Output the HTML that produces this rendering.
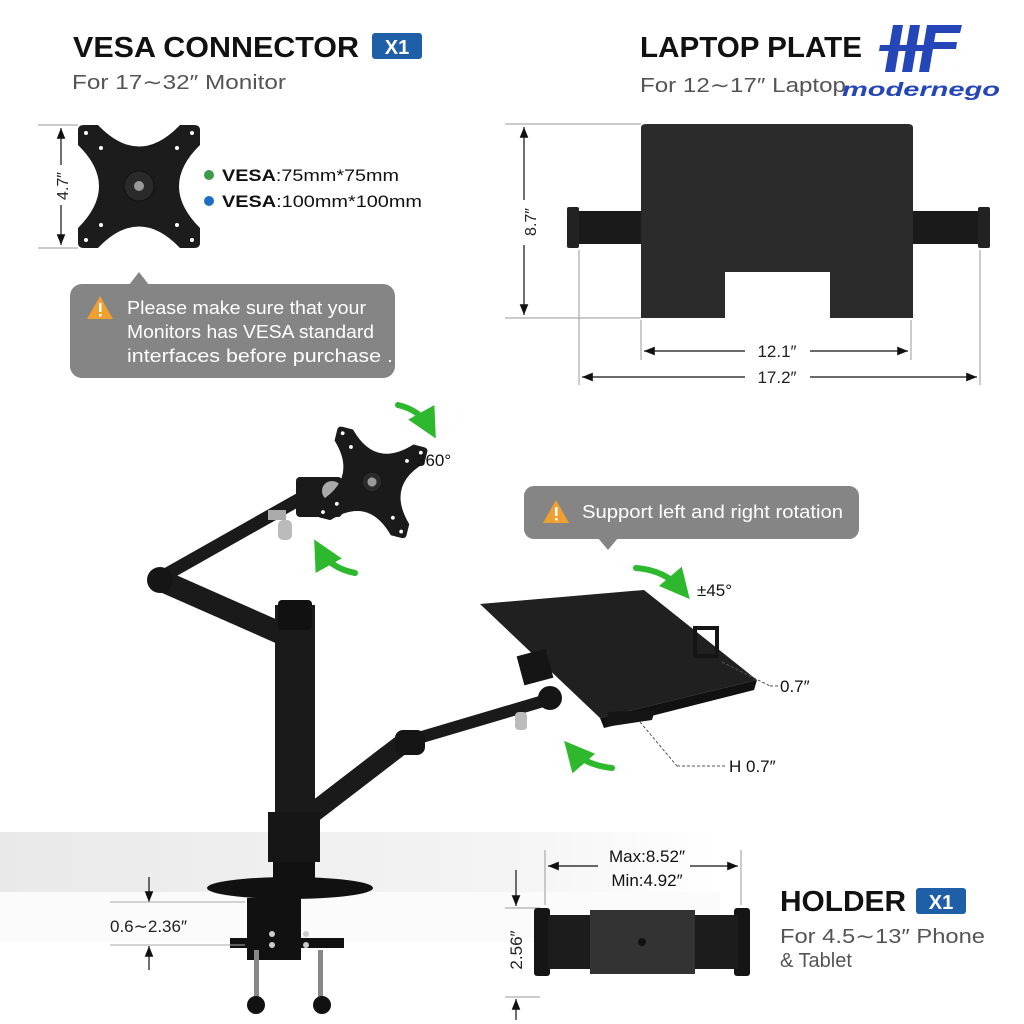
<!DOCTYPE html>
<html><head><meta charset="utf-8"><style>
html,body{margin:0;padding:0;background:#fff;}
svg{display:block;font-family:"Liberation Sans",sans-serif;}
</style></head><body>
<svg width="1024" height="1024" viewBox="0 0 1024 1024" xmlns="http://www.w3.org/2000/svg">
<defs>
<linearGradient id="desk" x1="0" y1="0" x2="1" y2="0">
<stop offset="0" stop-color="#e9e9e9"/><stop offset="0.7" stop-color="#f4f4f4"/><stop offset="1" stop-color="#fff"/>
</linearGradient>
<marker id="ah" viewBox="0 0 10 10" refX="10" refY="5" markerWidth="9" markerHeight="9" orient="auto-start-reverse"><path d="M0,1 L10,5 L0,9 z" fill="#111"/></marker>
<marker id="ga" viewBox="0 0 10 10" refX="6" refY="5" markerWidth="5" markerHeight="5" orient="auto"><path d="M0,0 L10,5 L0,10 z" fill="#2db82d"/></marker>
<path id="vesa" d="M78,130 Q78,125 84,125 L98,125 Q139,168 180,125 L194,125 Q200,125 200,130 L200,145 Q158,186 200,228 L200,243 Q200,248 194,248 L180,248 Q139,205 98,248 L84,248 Q78,248 78,243 L78,228 Q120,186 78,145 z"/>
</defs>
<rect width="1024" height="1024" fill="#fff"/>
<rect x="0" y="832" width="720" height="60" fill="url(#desk)"/>
<rect x="0" y="892" width="720" height="50" fill="#fbfbfb"/>

<text x="73" y="57" font-size="29" font-weight="bold" fill="#111" textLength="286" lengthAdjust="spacingAndGlyphs">VESA CONNECTOR</text>
<rect x="372" y="33" width="50" height="26" rx="3" fill="#1f5fa8"/>
<text x="397" y="54" font-size="20" font-weight="bold" fill="#fff" text-anchor="middle">X1</text>
<text x="72" y="89" font-size="20" fill="#555" textLength="214" lengthAdjust="spacingAndGlyphs">For 17∼32″ Monitor</text>

<text x="640" y="57" font-size="29" font-weight="bold" fill="#111" textLength="222" lengthAdjust="spacingAndGlyphs">LAPTOP PLATE</text>
<text x="640" y="92" font-size="20" fill="#555" textLength="206" lengthAdjust="spacingAndGlyphs">For 12∼17″ Laptop</text>
<g fill="#2446b8">
<path d="M893,25 L903,25 L895,72 L885,72 z"/><path d="M910,25 L920,25 L912,72 L902,72 z"/><path d="M927,25 L937,25 L929,72 L919,72 z"/>
<path d="M935,25 L962,25 L960,33 L934,33 z"/><path d="M932,42 L957,42 L956,49 L931,49 z"/><path d="M880,45 L930,45 L929,51 L879,51 z"/>
</g>
<text x="842" y="96" font-size="19" font-weight="bold" font-style="italic" fill="#2446b8" textLength="158" lengthAdjust="spacingAndGlyphs">modernego</text>

<line x1="38" y1="125" x2="78" y2="125" stroke="#999" stroke-width="1"/>
<line x1="38" y1="248" x2="78" y2="248" stroke="#999" stroke-width="1"/>
<line x1="61" y1="128" x2="61" y2="165" stroke="#111" stroke-width="1.2" marker-start="url(#ah)"/>
<line x1="61" y1="205" x2="61" y2="245" stroke="#111" stroke-width="1.2" marker-end="url(#ah)"/>
<text x="68" y="186" font-size="16" fill="#222" text-anchor="middle" transform="rotate(-90 68 186)">4.7″</text>
<use href="#vesa" fill="#1c1c1c"/>
<circle cx="139" cy="186" r="15" fill="#2a2a2a" stroke="#111"/><circle cx="139" cy="186" r="5" fill="#999"/>
<g fill="#fff"><circle cx="86" cy="133" r="2"/><circle cx="192" cy="133" r="2"/><circle cx="86" cy="240" r="2"/><circle cx="192" cy="240" r="2"/><circle cx="101" cy="148" r="2"/><circle cx="177" cy="148" r="2"/><circle cx="101" cy="225" r="2"/><circle cx="177" cy="225" r="2"/></g>
<circle cx="209" cy="175" r="5" fill="#3c9a4a"/><circle cx="209" cy="201" r="5" fill="#1f6fc0"/>
<text x="222" y="181" font-size="17" fill="#111" textLength="177" lengthAdjust="spacingAndGlyphs"><tspan font-weight="bold">VESA</tspan>:75mm*75mm</text>
<text x="222" y="207" font-size="17" fill="#111" textLength="200" lengthAdjust="spacingAndGlyphs"><tspan font-weight="bold">VESA</tspan>:100mm*100mm</text>

<path d="M129,285 L139,272 L149,285 z" fill="#858585"/>
<rect x="70" y="284" width="325" height="94" rx="12" fill="#858585"/>
<path d="M100,296 L113,319 L87,319 z" fill="#f0a030"/><rect x="99" y="303" width="2.5" height="9" fill="#fff"/><rect x="99" y="314" width="2.5" height="2.5" fill="#fff"/>
<text x="127" y="314" font-size="18" fill="#fff" textLength="239" lengthAdjust="spacingAndGlyphs">Please make sure that your</text>
<text x="127" y="338" font-size="18" fill="#fff" textLength="247" lengthAdjust="spacingAndGlyphs">Monitors has VESA standard</text>
<text x="127" y="362" font-size="18" fill="#fff" textLength="266" lengthAdjust="spacingAndGlyphs">interfaces before purchase .</text>

<line x1="505" y1="124" x2="641" y2="124" stroke="#999"/>
<line x1="505" y1="318" x2="641" y2="318" stroke="#999"/>
<line x1="524" y1="127" x2="524" y2="200" stroke="#111" stroke-width="1.2" marker-start="url(#ah)"/>
<line x1="524" y1="245" x2="524" y2="315" stroke="#111" stroke-width="1.2" marker-end="url(#ah)"/>
<text x="536" y="222" font-size="16" fill="#222" text-anchor="middle" transform="rotate(-90 536 222)">8.7″</text>
<rect x="567" y="211" width="75" height="33" fill="#1a1a1a"/>
<rect x="567" y="207" width="12" height="41" rx="2" fill="#222"/>
<rect x="905" y="211" width="80" height="33" fill="#1a1a1a"/>
<rect x="978" y="207" width="12" height="41" rx="2" fill="#222"/>
<path d="M641,128 Q641,124 646,124 L908,124 Q913,124 913,128 L913,318 L830,318 L830,272 L725,272 L725,318 L641,318 z" fill="#2b2b2b"/>
<line x1="641" y1="320" x2="641" y2="360" stroke="#999"/><line x1="911" y1="320" x2="911" y2="360" stroke="#999"/>
<line x1="579" y1="250" x2="579" y2="385" stroke="#999"/><line x1="980" y1="250" x2="980" y2="385" stroke="#999"/>
<line x1="644" y1="351" x2="745" y2="351" stroke="#111" stroke-width="1.2" marker-start="url(#ah)"/>
<line x1="810" y1="351" x2="908" y2="351" stroke="#111" stroke-width="1.2" marker-end="url(#ah)"/>
<text x="777" y="357" font-size="17" fill="#222" text-anchor="middle">12.1″</text>
<line x1="582" y1="377" x2="745" y2="377" stroke="#111" stroke-width="1.2" marker-start="url(#ah)"/>
<line x1="810" y1="377" x2="977" y2="377" stroke="#111" stroke-width="1.2" marker-end="url(#ah)"/>
<text x="777" y="383" font-size="17" fill="#222" text-anchor="middle">17.2″</text>

<g stroke-linecap="round" fill="none">
<line x1="160" y1="578" x2="298" y2="500" stroke="#1a1a1a" stroke-width="13"/>
<line x1="160" y1="580" x2="296" y2="640" stroke="#1a1a1a" stroke-width="22"/>
<line x1="310" y1="815" x2="405" y2="742" stroke="#1a1a1a" stroke-width="20"/>
<line x1="405" y1="742" x2="540" y2="702" stroke="#1a1a1a" stroke-width="12"/>
</g>
<circle cx="160" cy="580" r="13" fill="#151515"/>
<rect x="395" y="730" width="30" height="25" rx="8" fill="#151515"/>
<rect x="268" y="510" width="18" height="10" fill="#aaa"/>
<rect x="278" y="520" width="14" height="20" rx="5" fill="#bbb"/>
<rect x="515" y="712" width="12" height="18" rx="4" fill="#bbb"/>
<rect x="275" y="605" width="40" height="245" fill="#1a1a1a"/>
<rect x="278" y="600" width="34" height="30" rx="4" fill="#111"/>
<rect x="268" y="812" width="52" height="50" fill="#161616"/>
<rect x="273" y="862" width="42" height="18" fill="#111"/>
<ellipse cx="290" cy="888" rx="83" ry="11" fill="#111"/>
<rect x="247" y="898" width="54" height="62" fill="#111"/>
<rect x="230" y="938" width="114" height="10" fill="#111"/>
<g fill="#ccc"><circle cx="272" cy="934" r="3"/><circle cx="272" cy="945" r="3"/><circle cx="306" cy="934" r="3"/><circle cx="306" cy="945" r="3"/></g>
<rect x="254" y="950" width="5" height="50" fill="#888"/><rect x="318" y="950" width="5" height="50" fill="#888"/>
<ellipse cx="256" cy="1005" rx="9" ry="9" fill="#111"/><ellipse cx="322" cy="1005" rx="9" ry="9" fill="#111"/>

<rect x="296" y="477" width="46" height="40" rx="4" fill="#1a1a1a"/>
<circle cx="332" cy="491" r="10" fill="#aaa"/>
<g transform="translate(372 482) rotate(14) scale(0.76) translate(-139 -186)">
<use href="#vesa" fill="#1a1a1a"/>
<circle cx="139" cy="186" r="13" fill="#2a2a2a" stroke="#111"/><circle cx="139" cy="186" r="6" fill="#999"/>
<g fill="#fff"><circle cx="86" cy="133" r="2.5"/><circle cx="192" cy="133" r="2.5"/><circle cx="86" cy="240" r="2.5"/><circle cx="192" cy="240" r="2.5"/><circle cx="101" cy="148" r="2.5"/><circle cx="177" cy="148" r="2.5"/><circle cx="101" cy="225" r="2.5"/><circle cx="177" cy="225" r="2.5"/></g>
</g>
<g stroke="#2db82d" stroke-width="6" fill="none" stroke-linecap="round">
<path d="M398,405 Q420,410 430,428" marker-end="url(#ga)"/>
<path d="M355,573 Q330,568 320,550" marker-end="url(#ga)"/>
<path d="M636,568 Q665,570 682,590" marker-end="url(#ga)"/>
<path d="M612,768 Q585,765 572,750" marker-end="url(#ga)"/>
</g>
<text x="416" y="466" font-size="17" fill="#111">360°</text>
<text x="697" y="596" font-size="17" fill="#111">±45°</text>

<rect x="524" y="486" width="335" height="53" rx="10" fill="#858585"/>
<path d="M598,538 L608,550 L618,538 z" fill="#858585"/>
<path d="M556,500 L569,523 L543,523 z" fill="#f0a030"/><rect x="555" y="507" width="2.5" height="9" fill="#fff"/><rect x="555" y="518" width="2.5" height="2.5" fill="#fff"/>
<text x="582" y="518" font-size="18" fill="#fff" textLength="261" lengthAdjust="spacingAndGlyphs">Support left and right rotation</text>

<path d="M480,604 L644,590 L757,680 L600,718 z" fill="#202020"/>
<path d="M600,718 L757,680 L754,690 L604,728 z" fill="#111"/>
<rect x="520" y="652" width="30" height="30" fill="#151515" transform="rotate(-15 535 667)"/>
<rect x="695" y="628" width="22" height="28" fill="none" stroke="#151515" stroke-width="4"/>
<circle cx="550" cy="698" r="12" fill="#151515"/>
<path d="M608,712 L655,710 L652,720 L605,727 z" fill="#151515"/>
<line x1="722" y1="662" x2="770" y2="686" stroke="#555" stroke-dasharray="3,2"/>
<line x1="770" y1="686" x2="778" y2="686" stroke="#555" stroke-dasharray="3,2"/>
<text x="780" y="692" font-size="17" fill="#111">0.7″</text>
<line x1="640" y1="722" x2="677" y2="766" stroke="#555" stroke-dasharray="3,2"/>
<line x1="677" y1="766" x2="727" y2="766" stroke="#555" stroke-dasharray="3,2"/>
<text x="729" y="772" font-size="17" fill="#111">H 0.7″</text>

<line x1="149" y1="877" x2="149" y2="902" stroke="#111" stroke-width="1.2" marker-end="url(#ah)"/>
<line x1="149" y1="970" x2="149" y2="946" stroke="#111" stroke-width="1.2" marker-end="url(#ah)"/>
<line x1="110" y1="902" x2="245" y2="902" stroke="#aaa"/>
<line x1="110" y1="945" x2="245" y2="945" stroke="#aaa"/>
<text x="110" y="932" font-size="17" fill="#222">0.6∼2.36″</text>

<line x1="545" y1="850" x2="545" y2="905" stroke="#999"/><line x1="741" y1="850" x2="741" y2="905" stroke="#999"/>
<line x1="548" y1="866" x2="598" y2="866" stroke="#111" stroke-width="1.2" marker-start="url(#ah)"/>
<line x1="690" y1="866" x2="738" y2="866" stroke="#111" stroke-width="1.2" marker-end="url(#ah)"/>
<text x="647" y="862" font-size="17" fill="#111" text-anchor="middle">Max:8.52″</text>
<text x="647" y="886" font-size="17" fill="#111" text-anchor="middle">Min:4.92″</text>
<line x1="505" y1="908" x2="540" y2="908" stroke="#999"/><line x1="505" y1="997" x2="540" y2="997" stroke="#999"/>
<line x1="516" y1="870" x2="516" y2="906" stroke="#111" stroke-width="1.2" marker-end="url(#ah)"/>
<line x1="516" y1="1020" x2="516" y2="999" stroke="#111" stroke-width="1.2" marker-end="url(#ah)"/>
<text x="522" y="950" font-size="17" fill="#222" text-anchor="middle" transform="rotate(-90 522 950)">2.56″</text>
<rect x="534" y="908" width="16" height="68" rx="3" fill="#151515"/>
<rect x="734" y="908" width="16" height="68" rx="3" fill="#151515"/>
<rect x="548" y="915" width="190" height="54" fill="#1c1c1c"/>
<rect x="590" y="910" width="105" height="64" fill="#333"/>
<circle cx="642" cy="942" r="4" fill="#111"/>
<text x="780" y="911" font-size="29" font-weight="bold" fill="#111" textLength="126" lengthAdjust="spacingAndGlyphs">HOLDER</text>
<rect x="916" y="888" width="50" height="26" rx="3" fill="#1f5fa8"/>
<text x="941" y="909" font-size="20" font-weight="bold" fill="#fff" text-anchor="middle">X1</text>
<text x="780" y="943" font-size="20" fill="#555" textLength="205" lengthAdjust="spacingAndGlyphs">For 4.5∼13″ Phone</text>
<text x="780" y="967" font-size="20" fill="#555">&amp; Tablet</text>
</svg>
</body></html>
